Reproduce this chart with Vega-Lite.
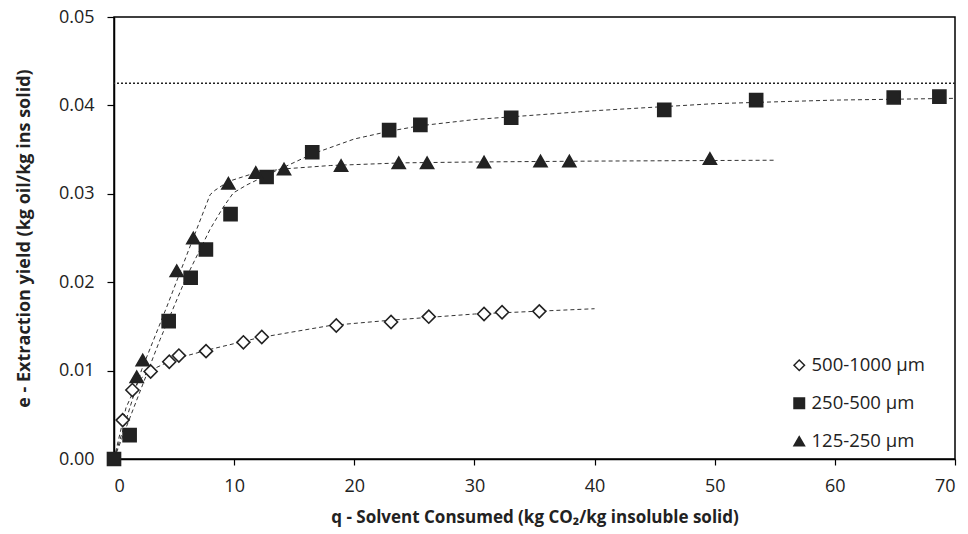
{
  "$schema": "https://vega.github.io/schema/vega-lite/v6.json",
  "width": 841,
  "height": 442,
  "autosize": {"type": "none"},
  "padding": {"left": 114, "top": 17, "right": 13, "bottom": 75},
  "background": "white",
  "config": {
    "view": {"stroke": "black", "strokeWidth": 1.5},
    "font": "Open Sans",
    "axis": {
      "domainColor": "black", "domainWidth": 1.5, "tickColor": "black", "tickWidth": 1.2,
      "grid": false, "labelFont": "Open Sans", "labelFontSize": 18, "labelColor": "#222",
      "titleFont": "Open Sans", "titleFontWeight": "bold", "titleColor": "#222"
    },
    "legend": {"labelFont": "Open Sans", "labelFontSize": 18.5, "labelColor": "#222"}
  },
  "datasets": {
    "pts": [
      {"q": 0.72, "e": 0.0044, "s": "500-1000 µm"},
      {"q": 1.53, "e": 0.0078, "s": "500-1000 µm"},
      {"q": 3.05, "e": 0.0099, "s": "500-1000 µm"},
      {"q": 4.6, "e": 0.0110, "s": "500-1000 µm"},
      {"q": 5.4, "e": 0.0117, "s": "500-1000 µm"},
      {"q": 7.66, "e": 0.0122, "s": "500-1000 µm"},
      {"q": 10.77, "e": 0.0132, "s": "500-1000 µm"},
      {"q": 12.3, "e": 0.0138, "s": "500-1000 µm"},
      {"q": 18.5, "e": 0.0151, "s": "500-1000 µm"},
      {"q": 23.06, "e": 0.0155, "s": "500-1000 µm"},
      {"q": 26.2, "e": 0.0161, "s": "500-1000 µm"},
      {"q": 30.8, "e": 0.0164, "s": "500-1000 µm"},
      {"q": 32.3, "e": 0.0166, "s": "500-1000 µm"},
      {"q": 35.4, "e": 0.0167, "s": "500-1000 µm"},
      {"q": 0, "e": 0, "s": "250-500 µm"},
      {"q": 1.3, "e": 0.0027, "s": "250-500 µm"},
      {"q": 4.55, "e": 0.0156, "s": "250-500 µm"},
      {"q": 6.38, "e": 0.0205, "s": "250-500 µm"},
      {"q": 7.65, "e": 0.0237, "s": "250-500 µm"},
      {"q": 9.7, "e": 0.0277, "s": "250-500 µm"},
      {"q": 12.7, "e": 0.0319, "s": "250-500 µm"},
      {"q": 16.5, "e": 0.0347, "s": "250-500 µm"},
      {"q": 22.9, "e": 0.0372, "s": "250-500 µm"},
      {"q": 25.5, "e": 0.0378, "s": "250-500 µm"},
      {"q": 33.06, "e": 0.0386, "s": "250-500 µm"},
      {"q": 45.8, "e": 0.0395, "s": "250-500 µm"},
      {"q": 53.45, "e": 0.0406, "s": "250-500 µm"},
      {"q": 64.9, "e": 0.0409, "s": "250-500 µm"},
      {"q": 68.7, "e": 0.0410, "s": "250-500 µm"},
      {"q": 1.89, "e": 0.0093, "s": "125-250 µm"},
      {"q": 2.39, "e": 0.0112, "s": "125-250 µm"},
      {"q": 5.22, "e": 0.0213, "s": "125-250 µm"},
      {"q": 6.6, "e": 0.0250, "s": "125-250 µm"},
      {"q": 9.52, "e": 0.0312, "s": "125-250 µm"},
      {"q": 11.8, "e": 0.0324, "s": "125-250 µm"},
      {"q": 14.15, "e": 0.0328, "s": "125-250 µm"},
      {"q": 18.9, "e": 0.0332, "s": "125-250 µm"},
      {"q": 23.7, "e": 0.0335, "s": "125-250 µm"},
      {"q": 26.06, "e": 0.0335, "s": "125-250 µm"},
      {"q": 30.8, "e": 0.0336, "s": "125-250 µm"},
      {"q": 35.5, "e": 0.0337, "s": "125-250 µm"},
      {"q": 37.9, "e": 0.0337, "s": "125-250 µm"},
      {"q": 49.6, "e": 0.0340, "s": "125-250 µm"}
    ],
    "fit": [
      {"q": 0, "e": 0, "s": "d"},
      {"q": 1.0, "e": 0.0058, "s": "d"},
      {"q": 2.0, "e": 0.0088, "s": "d"},
      {"q": 3.0, "e": 0.0100, "s": "d"},
      {"q": 5.0, "e": 0.0113, "s": "d"},
      {"q": 8.0, "e": 0.0124, "s": "d"},
      {"q": 12.0, "e": 0.0137, "s": "d"},
      {"q": 18.0, "e": 0.0151, "s": "d"},
      {"q": 23.0, "e": 0.0157, "s": "d"},
      {"q": 30.0, "e": 0.0164, "s": "d"},
      {"q": 35.0, "e": 0.0167, "s": "d"},
      {"q": 40.0, "e": 0.0170, "s": "d"},
      {"q": 0, "e": 0, "s": "sq"},
      {"q": 3.83, "e": 0.0135, "s": "sq"},
      {"q": 6.0, "e": 0.0205, "s": "sq"},
      {"q": 8.0, "e": 0.0260, "s": "sq"},
      {"q": 9.1, "e": 0.0285, "s": "sq"},
      {"q": 9.93, "e": 0.0301, "s": "sq"},
      {"q": 11.05, "e": 0.0310, "s": "sq"},
      {"q": 12.4, "e": 0.0319, "s": "sq"},
      {"q": 16.5, "e": 0.0345, "s": "sq"},
      {"q": 20.0, "e": 0.0362, "s": "sq"},
      {"q": 23.0, "e": 0.0371, "s": "sq"},
      {"q": 25.5, "e": 0.0377, "s": "sq"},
      {"q": 30.0, "e": 0.0384, "s": "sq"},
      {"q": 35.0, "e": 0.0389, "s": "sq"},
      {"q": 40.0, "e": 0.0394, "s": "sq"},
      {"q": 45.0, "e": 0.0398, "s": "sq"},
      {"q": 50.0, "e": 0.0402, "s": "sq"},
      {"q": 55.0, "e": 0.0404, "s": "sq"},
      {"q": 60.0, "e": 0.0406, "s": "sq"},
      {"q": 65.0, "e": 0.0407, "s": "sq"},
      {"q": 70.0, "e": 0.0408, "s": "sq"},
      {"q": 0, "e": 0, "s": "t"},
      {"q": 2.3, "e": 0.0101, "s": "t"},
      {"q": 4.39, "e": 0.0172, "s": "t"},
      {"q": 6.6, "e": 0.0250, "s": "t"},
      {"q": 8.0, "e": 0.0299, "s": "t"},
      {"q": 8.41, "e": 0.0304, "s": "t"},
      {"q": 9.52, "e": 0.0314, "s": "t"},
      {"q": 11.6, "e": 0.0323, "s": "t"},
      {"q": 14.0, "e": 0.0328, "s": "t"},
      {"q": 18.0, "e": 0.0332, "s": "t"},
      {"q": 24.0, "e": 0.0335, "s": "t"},
      {"q": 30.0, "e": 0.0336, "s": "t"},
      {"q": 40.0, "e": 0.0337, "s": "t"},
      {"q": 55.1, "e": 0.0338, "s": "t"}
    ],
    "lim": [{"e": 0.0425}]
  },
  "layer": [
    {
      "data": {"name": "lim"},
      "mark": {"type": "rule", "strokeDash": [2, 2], "strokeWidth": 1.6, "color": "#222"},
      "encoding": {"y": {"field": "e", "type": "quantitative"}}
    },
    {
      "data": {"name": "fit"},
      "mark": {"type": "line", "strokeDash": [4, 3], "strokeWidth": 1, "color": "#333"},
      "encoding": {
        "x": {"field": "q", "type": "quantitative"},
        "y": {"field": "e", "type": "quantitative"},
        "detail": {"field": "s"}
      }
    },
    {
      "data": {"name": "pts"},
      "mark": {"type": "point", "filled": false, "opacity": 1, "strokeWidth": 1.6, "stroke": "#222", "size": 170},
      "encoding": {
        "x": {
          "field": "q", "type": "quantitative",
          "scale": {"domain": [0, 70], "nice": false, "zero": true},
          "axis": {"values": [0, 10, 20, 30, 40, 50, 60, 70], "tickSize": 6, "labelPadding": 12, "title": "q - Solvent Consumed (kg CO₂/kg insoluble solid)", "titleFontSize": 17, "titlePadding": 14}
        },
        "y": {
          "field": "e", "type": "quantitative",
          "scale": {"domain": [0, 0.05], "nice": false},
          "axis": {"values": [0, 0.01, 0.02, 0.03, 0.04, 0.05], "format": ".2f", "tickSize": 7, "labelPadding": 13, "title": "e - Extraction yield (kg oil/kg ins solid)", "titleFontSize": 18, "titlePadding": 25}
        },
        "shape": {
          "field": "s", "type": "nominal",
          "scale": {"domain": ["500-1000 µm", "250-500 µm", "125-250 µm"], "range": ["diamond", "square", "triangle-up"]},
          "legend": {"title": null, "orient": "none", "legendX": 676, "legendY": 339, "symbolSize": 110, "rowPadding": 19, "symbolStrokeWidth": 1.5, "labelOffset": 3}
        },
        "fill": {
          "field": "s", "type": "nominal",
          "scale": {"domain": ["500-1000 µm", "250-500 µm", "125-250 µm"], "range": ["white", "#222", "#222"]},
          "legend": {"title": null, "orient": "none", "legendX": 676, "legendY": 339, "symbolSize": 110, "rowPadding": 19, "symbolStrokeWidth": 1.5, "labelOffset": 3}
        }
      }
    }
  ]
}
